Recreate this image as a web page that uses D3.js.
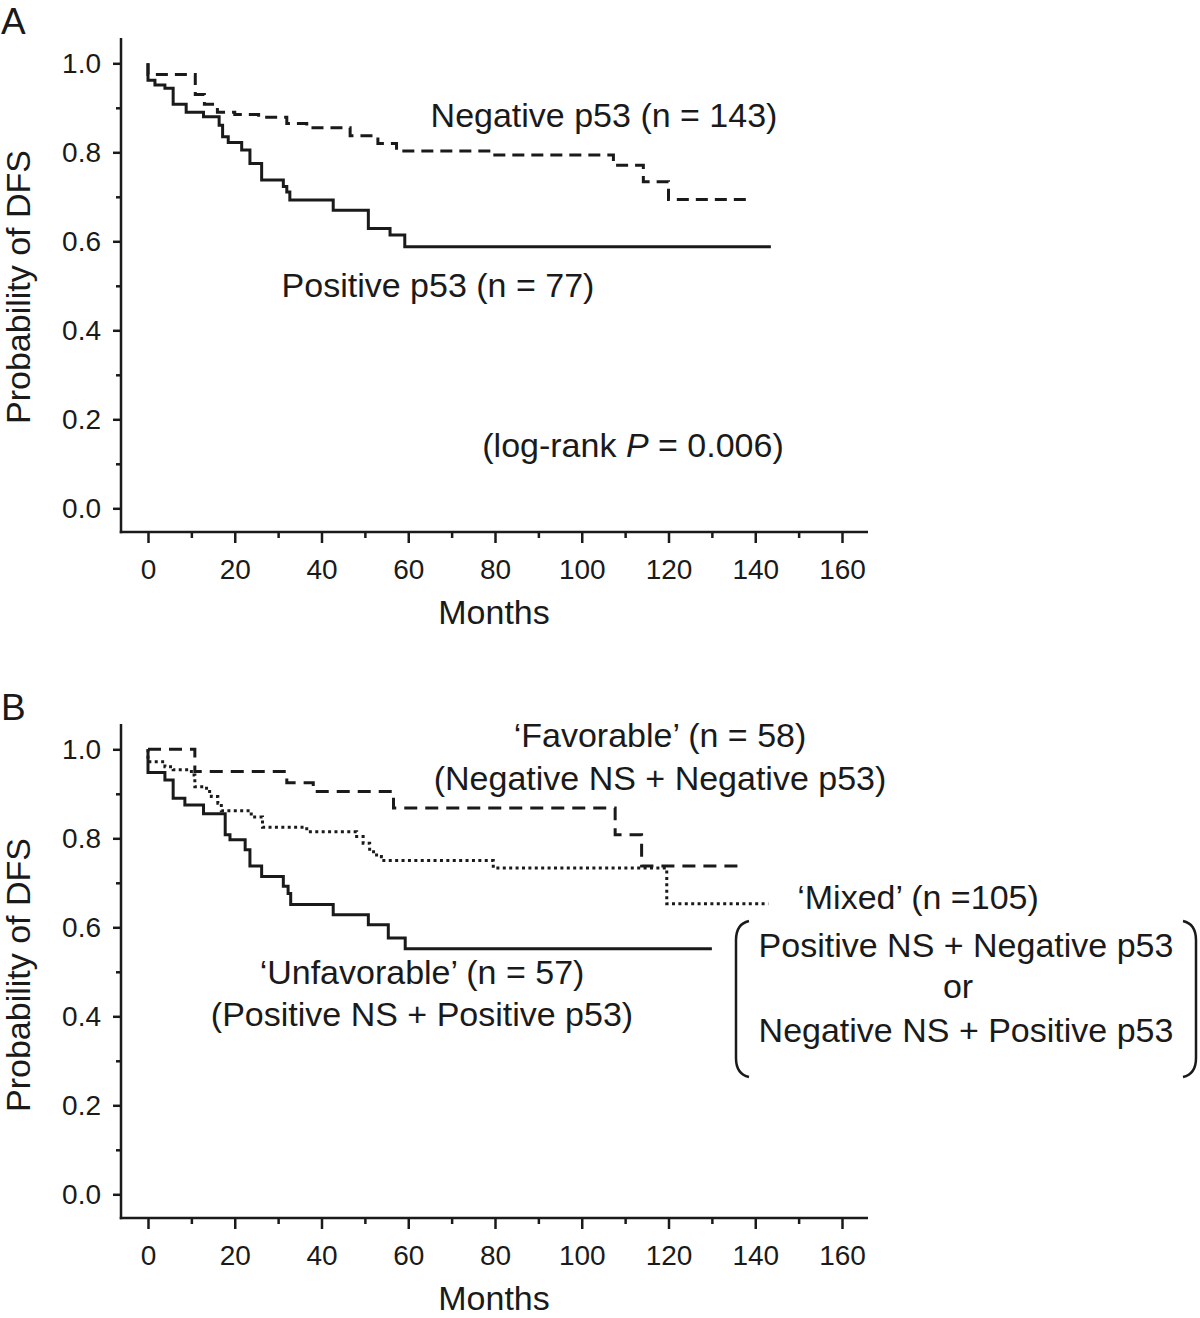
<!DOCTYPE html>
<html>
<head>
<meta charset="utf-8">
<script src="https://cdn.jsdelivr.net/npm/d3@7"></script>
<style>
  html, body { margin: 0; padding: 0; background: #fff; }
  svg { display: block; }
  text { font-family: "Liberation Sans", Arial, Helvetica, sans-serif; fill: #1a1a1a; }
</style>
</head>
<body>
<svg id="chart" width="1200" height="1318"></svg>
<script>
// ---------------- DATA ----------------
const xTickValues = [0, 20, 40, 60, 80, 100, 120, 140, 160];
const xMinorTicks = [10, 30, 50, 70, 90, 110, 130, 150];
const yTickValues = [0.0, 0.2, 0.4, 0.6, 0.8, 1.0];
const yMinorTicks = [0.1, 0.3, 0.5, 0.7, 0.9];

// Panel A: Positive p53 (solid)
const aPosMonths = [0, 0, 1.6, 3.9, 5.8, 8.8, 12.8, 16.4, 17.2, 18.5, 21.6, 23.5, 26.2, 31.2, 32, 32.7, 42.7, 50.8, 55.8, 59.2, 143.6];
const aPosSurv   = [1, 0.962, 0.951, 0.944, 0.908, 0.890, 0.880, 0.861, 0.835, 0.822, 0.805, 0.775, 0.738, 0.723, 0.711, 0.693, 0.670, 0.629, 0.614, 0.588, 0.588];
// Panel A: Negative p53 (dashed)
const aNegMonths = [0, 0, 10.9, 13, 16, 20, 25.5, 32, 36.6, 46.6, 53, 57.3, 79.6, 107.3, 114.2, 120, 138.4];
const aNegSurv   = [1, 0.975, 0.930, 0.908, 0.890, 0.885, 0.879, 0.865, 0.855, 0.837, 0.820, 0.803, 0.794, 0.771, 0.734, 0.694, 0.694];

// Panel B: Unfavorable (solid)
const bUnfMonths = [0, 0, 3.9, 5.8, 8.5, 12.8, 17.8, 18.9, 22.4, 23.5, 26.2, 31.2, 32.3, 32.9, 42.7, 50.8, 55.4, 59.3, 130];
const bUnfSurv   = [1, 0.948, 0.931, 0.890, 0.875, 0.855, 0.808, 0.797, 0.774, 0.738, 0.714, 0.692, 0.676, 0.651, 0.628, 0.606, 0.576, 0.552, 0.552];
// Panel B: Favorable (dashed)
const bFavMonths = [0, 10.8, 32, 38.1, 56.6, 107.7, 113.8, 137.6];
const bFavSurv   = [1, 0.950, 0.925, 0.905, 0.868, 0.808, 0.738, 0.738];
// Panel B: Mixed (dotted)
const bMixMonths = [0, 0, 3.9, 5.8, 10, 10.8, 13.5, 14.6, 16.1, 16.9, 23.8, 26.4, 36.6, 48.1, 49.6, 51.1, 52.7, 53.8, 79.6, 119.6, 143];
const bMixSurv   = [1, 0.972, 0.961, 0.954, 0.942, 0.916, 0.905, 0.894, 0.879, 0.862, 0.848, 0.825, 0.815, 0.804, 0.789, 0.770, 0.759, 0.750, 0.733, 0.653, 0.653];

// ---------------- DRAW ----------------
const svg = d3.select("#chart");
const INK = "#1a1a1a";

function zip(m, s) { return m.map((d, i) => [d, s[i]]); }

function drawPanel(p) {
  const g = svg.append("g").attr("transform", `translate(0,${p.dy})`);
  const x = d3.scaleLinear().domain([0, 160]).range([148, 842]);
  const y = d3.scaleLinear().domain([0, 1]).range([508.3, 63.3]);
  const axisX = 121, axisY = 532;

  // y axis
  const ya = g.append("g").attr("transform", `translate(${axisX},0)`)
    .call(d3.axisLeft(y).tickValues(yTickValues).tickSize(8).tickPadding(12).tickFormat(d3.format(".1f")));
  ya.select(".domain").remove();
  ya.selectAll(".tick line").attr("stroke", INK).attr("stroke-width", 2.5);
  ya.selectAll(".tick text").style("font-size", "28px").attr("fill", INK);
  const yam = g.append("g").attr("transform", `translate(${axisX},0)`)
    .call(d3.axisLeft(y).tickValues(yMinorTicks).tickSize(5).tickFormat(""));
  yam.select(".domain").remove();
  yam.selectAll(".tick line").attr("stroke", INK).attr("stroke-width", 2.5);

  // x axis
  const xa = g.append("g").attr("transform", `translate(0,${axisY})`)
    .call(d3.axisBottom(x).tickValues(xTickValues).tickSize(11).tickFormat(d3.format("d")));
  xa.select(".domain").remove();
  xa.selectAll(".tick line").attr("stroke", INK).attr("stroke-width", 2.5);
  xa.selectAll(".tick text").style("font-size", "28px").attr("fill", INK)
    .attr("y", 37).attr("dy", "0.35em");
  const xam = g.append("g").attr("transform", `translate(0,${axisY})`)
    .call(d3.axisBottom(x).tickValues(xMinorTicks).tickSize(6).tickFormat(""));
  xam.select(".domain").remove();
  xam.selectAll(".tick line").attr("stroke", INK).attr("stroke-width", 2.5);

  // axis lines
  g.append("line").attr("x1", axisX).attr("x2", axisX).attr("y1", p.yTop).attr("y2", axisY + 1.25)
    .attr("stroke", INK).attr("stroke-width", 2.5);
  g.append("line").attr("x1", axisX - 1.25).attr("x2", 868).attr("y1", axisY).attr("y2", axisY)
    .attr("stroke", INK).attr("stroke-width", 2.5);

  // curves
  const line = d3.line().x(d => x(d[0])).y(d => y(d[1])).curve(d3.curveStepAfter);
  p.series.forEach(s => {
    g.append("path").datum(zip(s.m, s.s)).attr("d", line)
      .attr("fill", "none").attr("stroke", INK)
      .attr("stroke-width", s.w || 3)
      .attr("stroke-dasharray", s.dash || null)
      .attr("stroke-linejoin", "miter").attr("stroke-linecap", "butt");
  });

  // labels
  g.append("text").attr("x", 494).attr("y", 624).attr("text-anchor", "middle")
    .style("font-size", "34px").text("Months");
  g.append("text").attr("transform", `translate(30,${p.ylabY}) rotate(-90)`)
    .attr("text-anchor", "middle").style("font-size", "34px").text("Probability of DFS");
  g.append("text").attr("x", 1).attr("y", 34).style("font-size", "37px").text(p.letter);
  return g;
}

// Panel A
const gA = drawPanel({
  dy: 0, yTop: 38, letter: "A", ylabY: 287,
  series: [
    { m: aPosMonths, s: aPosSurv },
    { m: aNegMonths, s: aNegSurv, dash: "12,7" }
  ]
});
gA.append("text").attr("x", 604).attr("y", 127).attr("text-anchor", "middle")
  .style("font-size", "34px").text("Negative p53 (n = 143)");
gA.append("text").attr("x", 438).attr("y", 297).attr("text-anchor", "middle")
  .style("font-size", "34px").text("Positive p53 (n = 77)");
const lr = gA.append("text").attr("x", 633).attr("y", 457).attr("text-anchor", "middle")
  .style("font-size", "34px");
lr.append("tspan").text("(log-rank ");
lr.append("tspan").style("font-style", "italic").text("P");
lr.append("tspan").text(" = 0.006)");

// Panel B
const gB = drawPanel({
  dy: 686, yTop: 38, letter: "B", ylabY: 289,
  series: [
    { m: bUnfMonths, s: bUnfSurv },
    { m: bFavMonths, s: bFavSurv, dash: "13,8" },
    { m: bMixMonths, s: bMixSurv, dash: "3,3.4", w: 3 }
  ]
});
const tB = (txt, xx, yy) => svg.append("text").attr("x", xx).attr("y", yy)
  .attr("text-anchor", "middle").style("font-size", "34px").text(txt);
tB("\u2018Favorable\u2019 (n = 58)", 660, 747);
tB("(Negative NS + Negative p53)", 660, 790);
tB("\u2018Mixed\u2019 (n =105)", 918, 909);
tB("Positive NS + Negative p53", 966, 957);
tB("or", 958, 998);
tB("Negative NS + Positive p53", 966, 1042);
tB("\u2018Unfavorable\u2019 (n = 57)", 422, 984);
tB("(Positive NS + Positive p53)", 422, 1026);

// brackets
svg.append("path").attr("d", "M749,921 Q736,924 736,940 L736,1058 Q736,1074 749,1077")
  .attr("fill", "none").attr("stroke", INK).attr("stroke-width", 2.5);
svg.append("path").attr("d", "M1183,921 Q1196,924 1196,940 L1196,1058 Q1196,1074 1183,1077")
  .attr("fill", "none").attr("stroke", INK).attr("stroke-width", 2.5);
</script>
</body>
</html>
